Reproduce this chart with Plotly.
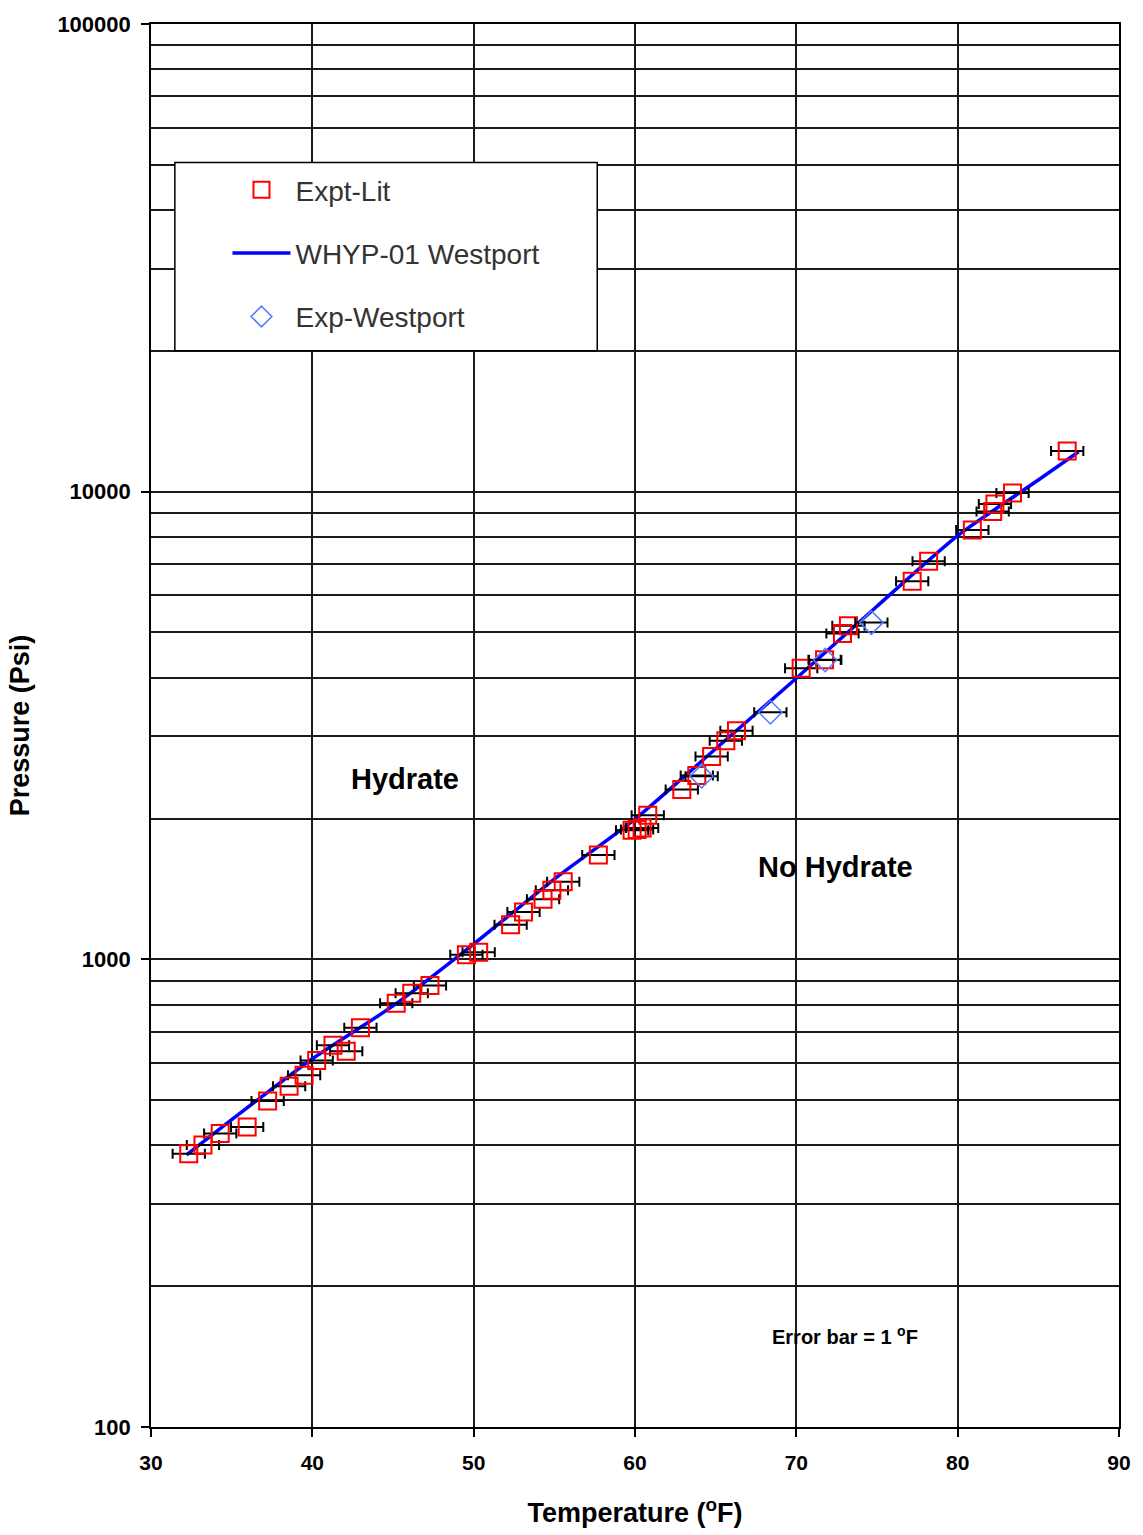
import plotly.graph_objects as go

# ---- data ----
lit_T = [32.34, 33.22, 34.29, 35.96, 37.23, 38.56, 39.49, 40.27, 41.28, 42.10, 42.98,
         45.20, 46.16, 47.29, 49.55, 50.31, 52.29, 53.09, 54.30, 54.85, 55.55, 57.73,
         59.82, 60.13, 60.44, 60.79, 62.90, 63.83, 64.75, 65.63, 66.29, 70.30, 71.75,
         72.86, 73.23, 77.18, 78.20, 80.91, 82.17, 82.31, 83.40, 86.79]
lit_P = [384, 401, 424, 438, 498, 535, 565, 608, 655, 636, 714,
         806, 846, 879, 1023, 1035, 1185, 1263, 1345, 1405, 1466, 1671,
         1889, 1895, 1910, 2033, 2307, 2471, 2716, 2934, 3082, 4190, 4370,
         4973, 5165, 6431, 7096, 8283, 9067, 9412, 9933, 12212]

wp_T = [64.13, 68.39, 71.79, 74.65]
wp_P = [2462, 3376, 4365, 5248]

model_T = [32.2, 35, 40, 45, 50, 55, 60, 65, 70, 75, 80, 85, 87.5]
model_P = [382, 454, 613, 795, 1078, 1485, 1995, 2820, 3990, 5690, 8055, 10590, 12170]

err_T = 1.0

x_ticks = [30, 40, 50, 60, 70, 80, 90]
y_ticks = [100, 1000, 10000, 100000]
y_tick_text = ["100", "1000", "10000", "100000"]
y_minor = [m * d for d in (100, 1000, 10000) for m in range(2, 10)]

FONT = "Arial, Liberation Sans, sans-serif"
GRID = "#1a1a1a"

fig = go.Figure()

errx = dict(type="constant", value=err_T, color="black", thickness=2, width=5)

fig.add_trace(go.Scatter(
    x=model_T, y=model_P, mode="lines", name="WHYP-01 Westport",
    line=dict(color="#0000ff", width=3.5, shape="spline", smoothing=0.6),
    legendgroup="b", legendrank=2))

fig.add_trace(go.Scatter(
    x=lit_T, y=lit_P, mode="markers", name="Expt-Lit",
    marker=dict(symbol="square-open", size=17, color="#ff0000", line=dict(width=2, color="#ff0000")),
    error_x=errx, legendgroup="a", legendrank=1))

fig.add_trace(go.Scatter(
    x=wp_T, y=wp_P, mode="markers", name="Exp-Westport",
    marker=dict(symbol="diamond-open", size=18, color="#4f7cff", line=dict(width=1.5, color="#4f7cff")),
    error_x=errx, legendgroup="c", legendrank=3))

fig.update_layout(
    width=1143, height=1535,
    margin=dict(l=151, r=15, t=18, b=107),
    paper_bgcolor="white", plot_bgcolor="white",
    font=dict(family=FONT, color="black"),
    showlegend=True,
    legend=dict(x=0.079, y=0.8995, xanchor="left", yanchor="top",
                bgcolor="rgba(0,0,0,0)", borderwidth=0,
                font=dict(family=FONT, size=28, color="#333333"),
                traceorder="grouped", tracegroupgap=24, itemwidth=58),
    xaxis=dict(range=[30, 90], tickvals=x_ticks, showgrid=True, gridcolor=GRID, gridwidth=1.6,
               showline=True, linecolor="black", linewidth=1.6, mirror=True,
               ticks="outside", ticklen=8, tickwidth=1.6, tickcolor="black",
               tickfont=dict(family=FONT, size=21, weight="bold"), ticklabelstandoff=8,
               zeroline=False,
               title=dict(text="Temperature (<sup>o</sup>F)", font=dict(family=FONT, size=27, weight="bold"),
                          standoff=30)),
    yaxis=dict(type="log", range=[2, 5], tickvals=y_ticks, ticktext=y_tick_text,
               showgrid=True, gridcolor=GRID, gridwidth=1.6,
               showline=True, linecolor="black", linewidth=1.6, mirror=True,
               ticks="outside", ticklen=8, tickwidth=1.6, tickcolor="black",
               tickfont=dict(family=FONT, size=22, weight="bold"), ticklabelstandoff=6,
               minor=dict(tickvals=y_minor, showgrid=True, gridcolor=GRID, gridwidth=1.6, ticks=""),
               zeroline=False,
               title=dict(text="Pressure (Psi)", font=dict(family=FONT, size=27, weight="bold"),
                          standoff=20)),
    shapes=[dict(type="rect", xref="paper", yref="paper",
                 x0=(175 - 151) / 974, x1=(600 - 151) / 974,
                 y0=1 - (348 - 20) / 1408, y1=1 - (159 - 20) / 1408,
                 line=dict(color="black", width=1.5), fillcolor="white", layer="above")],
    annotations=[
        dict(x=45.75, y=3.385, xref="x", yref="y", text="<b>Hydrate</b>", showarrow=False,
             font=dict(family=FONT, size=29, color="black")),
        dict(x=72.45, y=3.197, xref="x", yref="y", text="<b>No Hydrate</b>", showarrow=False,
             font=dict(family=FONT, size=29, color="black")),
        dict(x=73.0, y=2.195, xref="x", yref="y", text="<b>Error bar = 1 <sup>o</sup>F</b>", showarrow=False,
             font=dict(family=FONT, size=20, color="black")),
    ],
)

fig.write_html("out.html")
